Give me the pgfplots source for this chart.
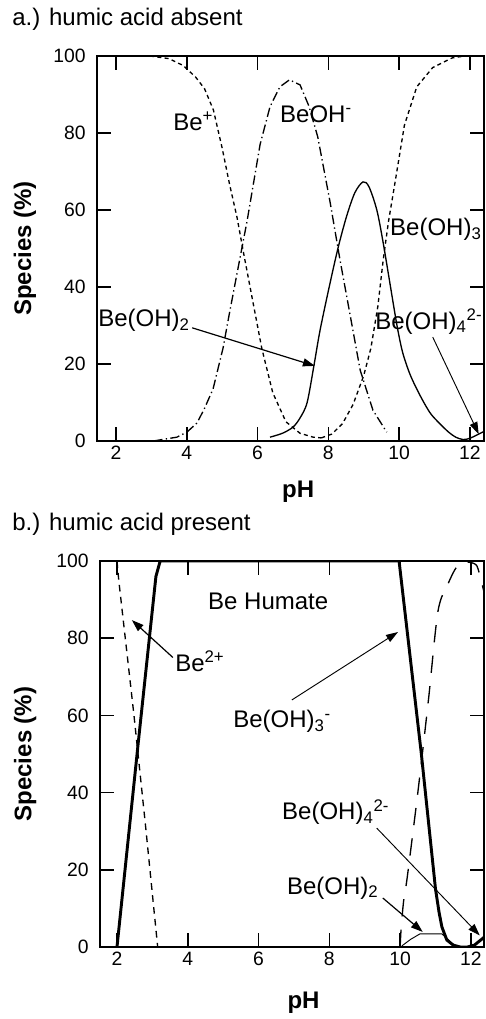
\documentclass[border=0pt]{standalone}
\usepackage{fontspec}
\setmainfont{Liberation Sans}
\setsansfont{Liberation Sans}
\usepackage{pgfplots}
\pgfplotsset{compat=1.18}
\usetikzlibrary{arrows.meta}

\pgfplotsset{
  specax/.style={
    scale only axis,
    ymin=0, ymax=100,
    xtick={2,4,...,12}, ytick={0,20,...,100},
    tick align=inside,
    xticklabel pos=bottom, yticklabel pos=left,
    major tick length=10.5pt,
    axis line style={line width=1.2pt},
    major tick style={line width=1.1pt, black},
    tick label style={font=\fontsize{14.5}{16}\selectfont},
    yticklabel style={xshift=-5pt},
    /pgf/number format/assume math mode=true,
    label style={font=\fontsize{18}{21}\selectfont\bfseries},
    clip mode=individual,
  },
}
\tikzset{arr/.style={-{Triangle[length=9pt,width=6pt]}, line width=0.9pt},
  lab/.style={anchor=west, inner sep=0, font=\fontsize{18}{21}\selectfont}}

\begin{document}
\begin{tikzpicture}
\useasboundingbox (0,0) rectangle (363.75pt,-764.25pt);

\node[anchor=base west, inner sep=0, font=\fontsize{18}{21}\selectfont] at (9pt,-19.5pt) {a.) humic acid absent};
\node[anchor=base west, inner sep=0, font=\fontsize{18}{21}\selectfont] at (9pt,-397.5pt) {b.) humic acid present};

% a.) humic acid absent
\begin{axis}[specax,
  at={(72.75pt,-330.75pt)}, anchor=south west,
  width=290.25pt, height=288.75pt,
  xmin=1.46, xmax=12.4,
  xlabel={pH}, ylabel={Species (\%)},
  xlabel style={at={(axis description cs:0.52,-0.132)}, anchor=center},
  ylabel style={at={(axis description cs:-0.186,0.5)}, anchor=center},
]
% Be+
\addplot[black, line width=1pt, dash pattern=on 3pt off 2.5pt] coordinates {
  (2.96,100) (3.5,99.3) (3.9,97.5) (4.25,94.5) (4.5,91.5) (4.75,86) (5.0,76)
  (5.2,67) (5.42,58) (5.6,49) (5.87,36) (6.12,24) (6.43,12.5) (6.8,5)
  (7.2,2) (7.57,1) (7.8,0.8)};
% Be(OH)3
\addplot[black, line width=1pt, dash pattern=on 3pt off 2.5pt] coordinates {
  (7.8,0.8) (8.1,1.8) (8.4,4.5) (8.7,9.5) (9.0,17) (9.2,24) (9.4,35) (9.55,47)
  (9.7,57) (9.9,68) (10.15,82) (10.5,92) (10.95,97) (11.5,99.5) (11.85,100)};
% BeOH-
\addplot[black, line width=1pt, dash pattern=on 7pt off 2.5pt on 1pt off 2.5pt] coordinates {
  (3.05,0) (3.72,1) (4.0,2.3) (4.29,4.7) (4.5,8.5) (4.74,13.5) (5.02,24) (5.2,33)
  (5.42,43.6) (5.7,57) (6.07,77) (6.35,86.8) (6.63,92) (6.9,93.8) (7.2,92.5)
  (7.45,87) (7.7,79) (8.05,62) (8.33,47) (8.61,33) (8.9,18.4) (9.26,8) (9.65,2.3)};
% Be(OH)2
\addplot[black, line width=1pt, smooth] coordinates {
  (6.35,1) (6.7,2) (7.0,3.6) (7.2,6) (7.4,10) (7.6,20) (7.76,28.5) (8.0,39)
  (8.27,50) (8.52,58.5) (8.75,64.5) (8.98,67.3) (9.15,66) (9.37,60) (9.54,52)
  (9.74,41) (9.94,30) (10.1,23) (10.3,17.5) (10.5,13.5) (10.7,10) (10.9,7)
  (11.15,4.5) (11.4,2.3) (11.6,1) (11.8,0.4) (12.0,0.7) (12.4,2.5)};

\node[lab] at (axis cs:3.61,83) {Be\textsuperscript{+}};
\node[lab] at (axis cs:6.63,85) {BeOH\textsuperscript{-}};
\node[lab] at (axis cs:9.74,55) {Be(OH)\textsubscript{3}};
\node[lab] at (axis cs:9.32,31) {Be(OH)\textsubscript{4}\textsuperscript{2-}};
\node[lab] at (axis cs:1.49,31.4) {Be(OH)\textsubscript{2}};
\draw[arr] (axis cs:4.15,29.4) -- (axis cs:7.62,19.5);
\draw[arr, line width=0.7pt] (axis cs:10.95,27) -- (axis cs:12.25,1.8);
\end{axis}

% b.) humic acid present
\begin{axis}[specax,
  at={(75pt,-710.25pt)}, anchor=south west,
  width=288pt, height=289.5pt,
  xmin=1.52, xmax=12.37,
  xlabel={pH}, ylabel={Species (\%)},
  xlabel style={at={(axis description cs:0.53,-0.145)}, anchor=center},
  ylabel style={at={(axis description cs:-0.195,0.5)}, anchor=center},
]
% Be humate
\addplot[black, line width=2.2pt] coordinates {
  (2.0,0) (2.59,52) (3.1,96) (3.22,100) (9.97,100) (10.6,50) (11.0,15)
  (11.1,9) (11.18,5.2) (11.32,1.8) (11.5,0.5) (11.7,0) (11.9,0) (12.1,0.5) (12.37,2.5)};
% Be2+
\addplot[black, line width=1pt, dash pattern=on 5pt off 4pt] coordinates {
  (2.0,100) (2.05,95) (2.48,60) (2.8,32) (3.15,0)};
% Be(OH)3-
\addplot[black, line width=1pt, dash pattern=on 13pt off 10pt, smooth] coordinates {
  (10.0,0) (10.03,5) (10.1,12) (10.2,18) (10.5,40) (10.8,64) (11.07,87)
  (11.35,94) (11.6,98.5) (11.85,99.7) (12.1,99.3) (12.2,98) (12.37,92)};
% Be(OH)2
\addplot[black, line width=0.7pt] coordinates {
  (10.05,0.3) (10.3,2) (10.56,3.4) (11.18,3.4) (11.35,2) (11.46,1) (11.6,0)};

\node[lab] at (axis cs:4.57,89.6) {Be Humate};
\node[lab] at (axis cs:3.64,74) {Be\textsuperscript{2+}};
\node[lab] at (axis cs:5.28,58.5) {Be(OH)\textsubscript{3}\textsuperscript{-}};
\node[lab] at (axis cs:6.66,35) {Be(OH)\textsubscript{4}\textsuperscript{2-}};
\node[lab] at (axis cs:6.8,15.3) {Be(OH)\textsubscript{2}};
\draw[arr] (axis cs:3.58,75) -- (axis cs:2.42,84.7);
\draw[arr, line width=0.7pt] (axis cs:6.94,64) -- (axis cs:9.94,81.6);
\draw[arr, line width=0.7pt] (axis cs:9.34,30.8) -- (axis cs:12.25,3);
\draw[arr] (axis cs:9.51,12.7) -- (axis cs:10.64,3.9);
\end{axis}
\end{tikzpicture}
\end{document}
